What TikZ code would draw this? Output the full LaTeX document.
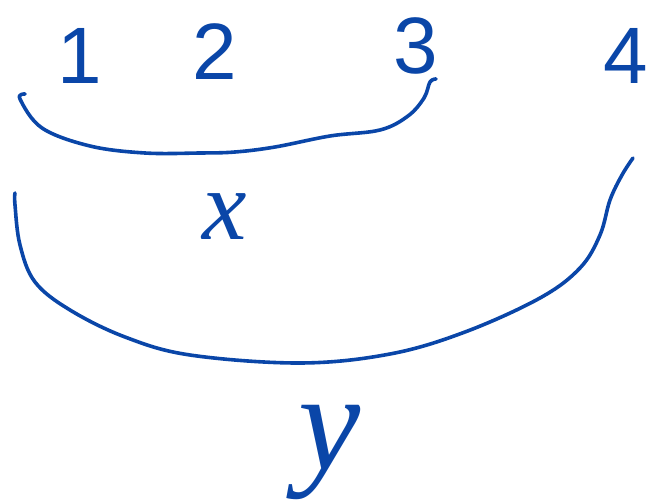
\documentclass[tikz,border=0pt]{standalone}
\usepackage{fontspec}
\setmainfont{Liberation Sans}
\newfontfamily\varfont{Liberation Serif}
\definecolor{ink}{HTML}{0A46A8}
\begin{document}
\begin{tikzpicture}[x=1pt,y=-1pt,
  stroke/.style={draw=ink,line width=3.6pt,line cap=round,line join=round},
  digit/.style={text=ink,font=\fontsize{80}{80}\selectfont,inner sep=0pt},
  var/.style={text=ink,inner sep=0pt}]
\useasboundingbox (0,0) rectangle (651,500);
\node[digit] (n1) at (80,56) {1};
\node[digit] (n2) at (215,52) {2};
\node[digit] (n3) at (416,46) {3};
\node[digit] (n4) at (626,56) {4};
\node[var,font=\varfont\itshape\fontsize{100}{100}\selectfont] (vx) at (225,217) {x};
\node[var,font=\varfont\itshape\fontsize{140}{140}\selectfont] (vy) at (330,452) {y};
\draw[stroke] plot[smooth,tension=0.6] coordinates {(25,94) (20,99) (42,128) (90,146) (145,153) (200,153) (235,152) (275,147) (330,136) (380,130) (408,116) (424,98) (430,82) (436,79)};
\draw[stroke] plot[smooth,tension=0.6] coordinates {(15,193) (15,205) (20,245) (35,282) (70,310) (125,337) (190,355) (300,363) (390,354) (465,332) (540,298) (580,268) (600,235) (610,200) (622,175) (633,158)};
\end{tikzpicture}
\end{document}
